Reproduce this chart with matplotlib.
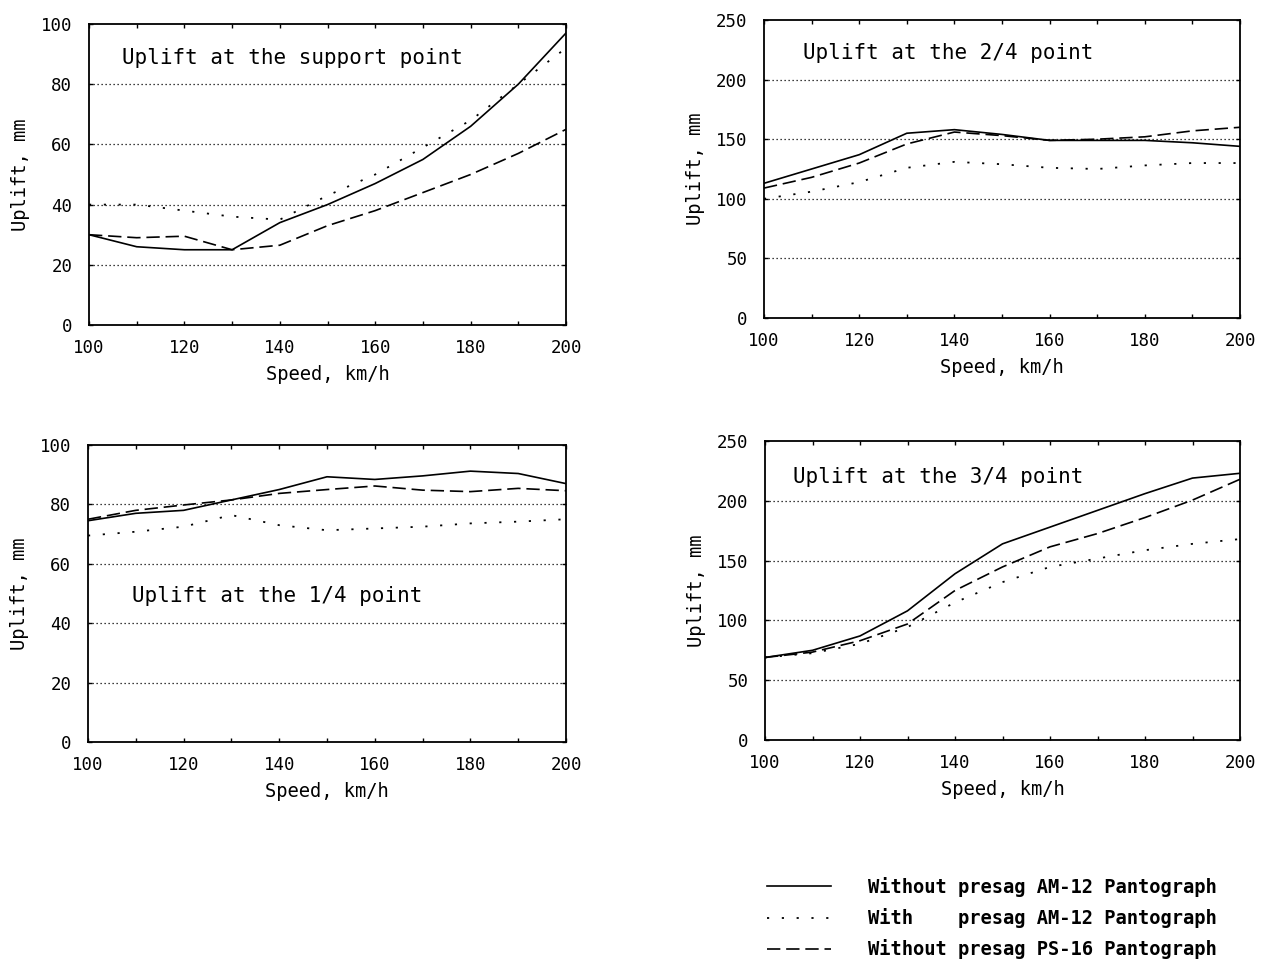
import matplotlib
matplotlib.use("Agg")
import matplotlib.pyplot as plt
from matplotlib.ticker import MultipleLocator

plt.rcParams['font.family'] = ['DejaVu Sans Mono']

speed = [100, 110, 120, 130, 140, 150, 160, 170, 180, 190, 200]

# Uplift (mm) at the support point
support_no_presag_am12 = [30, 26, 25, 25, 34, 40, 47, 55, 66, 80, 97]
support_presag_am12 = [40, 40, 38, 36, 35, 43, 50, 59, 68, 80, 92]
support_no_presag_ps16 = [30, 29, 29.5, 25, 26.5, 33, 38, 44, 50, 57, 65]

# Uplift (mm) at the 2/4 point
mid_no_presag_am12 = [113, 125, 137, 155, 158, 154, 149, 149, 149, 147, 144]
mid_presag_am12 = [100, 106, 114, 126, 131, 129, 126, 125, 128, 130, 130]
mid_no_presag_ps16 = [109, 118, 130, 146, 156, 153, 149, 150, 152, 157, 160]

# Uplift (mm) at the 1/4 point
quarter_no_presag_am12 = [74.5, 77, 78, 81.5, 85, 89.3, 88.4, 89.6, 91.2, 90.4, 87]
quarter_presag_am12 = [69.5, 70.8, 72.5, 76.4, 73, 71.3, 71.9, 72.5, 73.6, 74.2, 75]
quarter_no_presag_ps16 = [75, 78, 79.8, 81.5, 83.7, 85, 86.2, 84.8, 84.3, 85.4, 84.6]

# Uplift (mm) at the 3/4 point
three_q_no_presag_am12 = [69, 75, 87, 108, 139, 164, 178, 192, 206, 219, 223]
three_q_presag_am12 = [69, 72.6, 80.4, 94.4, 115, 132, 144.7, 151.7, 158.7, 164, 168]
three_q_no_presag_ps16 = [69, 73.5, 83, 97, 125, 144.7, 161.5, 172.6, 186, 200.6, 218]

legend_labels = [
    "Without presag AM-12 Pantograph",
    "With    presag AM-12 Pantograph",
    "Without presag PS-16 Pantograph",
]

W, H = 1264, 967
fig = plt.figure(figsize=(W / 100, H / 100), dpi=100)


def add_axes_px(left, right, top, bottom):
    return fig.add_axes([left / W, 1 - bottom / H, (right - left) / W, (bottom - top) / H])


STYLES = [
    dict(linestyle='-', color='black', lw=1.2),
    dict(linestyle=(0, (1.2, 7)), color='black', lw=1.3),
    dict(linestyle=(0, (8, 3.5)), color='black', lw=1.2),
]


def panel(ax, series, ymax, ystep, title, tx, ty):
    handles = []
    for s, st in zip(series, STYLES):
        h, = ax.plot(speed, s, **st)
        handles.append(h)
    ax.set_xlim(100, 200)
    ax.set_ylim(0, ymax)
    ax.xaxis.set_major_locator(MultipleLocator(20))
    ax.xaxis.set_minor_locator(MultipleLocator(10))
    ax.yaxis.set_major_locator(MultipleLocator(ystep))
    ax.tick_params(which='both', direction='in', top=True, right=True,
                   length=3, width=1, labelsize=12.5)
    ax.tick_params(axis='x', pad=10)
    ax.tick_params(axis='y', pad=12)
    for gy in range(ystep, ymax, ystep):
        ax.axhline(gy, color='black', lw=0.9, linestyle=(0, (1, 2.2)), zorder=0)
    for sp in ax.spines.values():
        sp.set_linewidth(1.3)
    ax.set_xlabel("Speed, km/h", fontsize=13.5, labelpad=6)
    ax.set_ylabel("Uplift, mm", fontsize=13.5, labelpad=8)
    ax.text(tx, ty, title, transform=ax.transAxes, fontsize=15,
            ha='left', va='center')
    return handles


ax1 = add_axes_px(89, 566, 24, 325)
handles = panel(ax1, [support_no_presag_am12, support_presag_am12, support_no_presag_ps16],
                100, 20, "Uplift at the support point", 0.069, 0.887)

ax2 = add_axes_px(764, 1240, 20, 318)
panel(ax2, [mid_no_presag_am12, mid_presag_am12, mid_no_presag_ps16],
      250, 50, "Uplift at the 2/4 point", 0.082, 0.889)

ax3 = add_axes_px(88, 566, 445, 742)
panel(ax3, [quarter_no_presag_am12, quarter_presag_am12, quarter_no_presag_ps16],
      100, 20, "Uplift at the 1/4 point", 0.092, 0.49)

ax4 = add_axes_px(765, 1240, 441, 740)
panel(ax4, [three_q_no_presag_am12, three_q_presag_am12, three_q_no_presag_ps16],
      250, 50, "Uplift at the 3/4 point", 0.059, 0.88)

fig.legend(handles, legend_labels, loc='upper left',
           bbox_to_anchor=(750 / W, 1 - 860 / H), frameon=False,
           handlelength=3.4, handletextpad=2.0, labelspacing=0.6,
           prop=dict(family='DejaVu Sans Mono', size=13.5, weight='bold'))

fig.savefig("out.png", dpi=100)
